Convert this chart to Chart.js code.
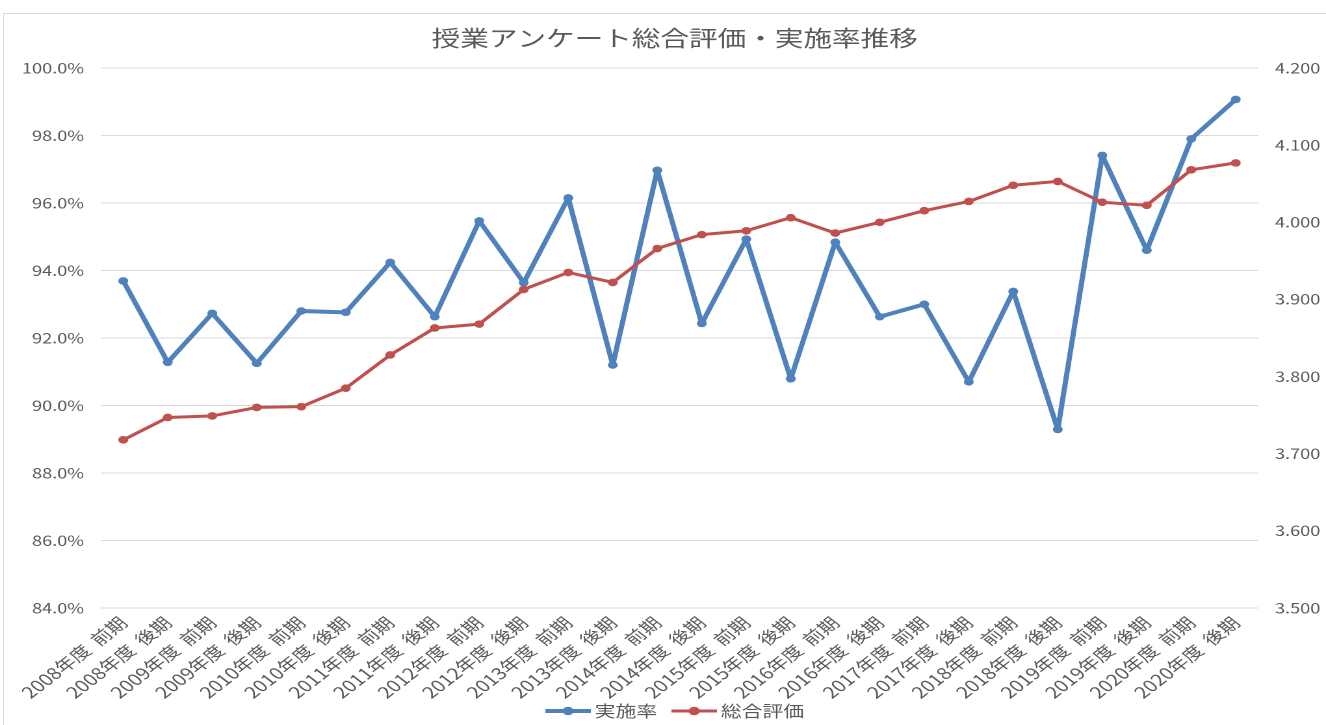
<!DOCTYPE html>
<html lang="ja">
<head>
<meta charset="utf-8">
<title>授業アンケート総合評価・実施率推移</title>
<script src="https://cdn.jsdelivr.net/npm/chart.js@4.4.1/dist/chart.umd.min.js"></script>
<style>
    html, body { margin: 0; padding: 0; background: #fff; overflow: hidden; }
    #frame { position: absolute; left: 3px; top: 13px; width: 1360px; height: 740px; border: 1px solid #d9d9d9; box-sizing: border-box; }
    /* the original picture is stretched sideways, so the chart is drawn narrow and widened */
    #wrap { position: absolute; left: 0; top: 0; transform: scaleX(1.3); transform-origin: 0 0; }
</style>
</head>
<body>
<div id="frame"></div>
<div id="wrap"><canvas id="surveyChart" width="1038" height="725"></canvas></div>
<script>
const periods = [
    '2008年度  前期', '2008年度  後期', '2009年度  前期', '2009年度  後期',
    '2010年度  前期', '2010年度  後期', '2011年度  前期', '2011年度  後期',
    '2012年度  前期', '2012年度  後期', '2013年度  前期', '2013年度  後期',
    '2014年度  前期', '2014年度  後期', '2015年度  前期', '2015年度  後期',
    '2016年度  前期', '2016年度  後期', '2017年度  前期', '2017年度  後期',
    '2018年度  前期', '2018年度  後期', '2019年度  前期', '2019年度  後期',
    '2020年度  前期', '2020年度  後期'
];

// 実施率 (%), left axis
const responseRate = [
    93.69, 91.28, 92.73, 91.25, 92.80, 92.76, 94.24, 92.63, 95.47, 93.64,
    96.15, 91.20, 96.97, 92.43, 94.93, 90.79, 94.84, 92.63, 93.00, 90.70,
    93.38, 89.29, 97.41, 94.60, 97.90, 99.07
];

// 総合評価, right axis
const overallScore = [
    3.718, 3.747, 3.749, 3.760, 3.761, 3.785, 3.828, 3.863, 3.868, 3.913,
    3.935, 3.922, 3.966, 3.984, 3.989, 4.006, 3.986, 4.000, 4.015, 4.027,
    4.048, 4.053, 4.026, 4.022, 4.068, 4.077
];

const leftTicks = [84, 86, 88, 90, 92, 94, 96, 98, 100];
const rightTicks = [3.5, 3.6, 3.7, 3.8, 3.9, 4.0, 4.1, 4.2];

const BLUE = '#4f81bd';
const RED = '#c0504d';
const TEXT = '#595959';
const GRID = '#d9d9d9';
const FONT = "'Noto Sans CJK JP', 'Noto Sans', sans-serif";

// Excel style legend: short line with a marker in the middle, then the label
const lineLegend = {
    id: 'lineLegend',
    afterDraw(chart) {
        const ctx = chart.ctx;
        const lineLen = 35, gap = 3, itemGap = 11, y = 711;
        ctx.save();
        ctx.font = '16px ' + FONT;
        ctx.textBaseline = 'middle';
        const items = chart.data.datasets.map((ds) => ({
            text: ds.label,
            color: ds.borderColor,
            lw: ds.borderWidth,
            r: ds.pointRadius,
            w: lineLen + gap + ctx.measureText(ds.label).width
        }));
        const total = items.reduce((s, it) => s + it.w, 0) + itemGap * (items.length - 1);
        let x = chart.width / 2 - total / 2;
        items.forEach((it) => {
            ctx.strokeStyle = it.color;
            ctx.lineWidth = it.lw;
            ctx.beginPath();
            ctx.moveTo(x, y);
            ctx.lineTo(x + lineLen, y);
            ctx.stroke();
            ctx.fillStyle = it.color;
            ctx.beginPath();
            ctx.arc(x + lineLen / 2, y, it.r + 0.5, 0, Math.PI * 2);
            ctx.fill();
            ctx.fillStyle = TEXT;
            ctx.fillText(it.text, x + lineLen + gap, y);
            x += it.w + itemGap;
        });
        ctx.restore();
    }
};

new Chart(document.getElementById('surveyChart'), {
    type: 'line',
    data: {
        labels: periods,
        datasets: [
            {
                label: '実施率',
                data: responseRate,
                yAxisID: 'y',
                borderColor: BLUE,
                backgroundColor: BLUE,
                borderWidth: 4,
                borderJoinStyle: 'round',
                pointRadius: 3.8,
                pointBorderWidth: 0,
                pointBackgroundColor: BLUE,
                tension: 0,
                order: 1
            },
            {
                label: '総合評価',
                data: overallScore,
                yAxisID: 'y1',
                borderColor: RED,
                backgroundColor: RED,
                borderWidth: 3,
                borderJoinStyle: 'round',
                pointRadius: 3.8,
                pointBorderWidth: 0,
                pointBackgroundColor: RED,
                tension: 0,
                order: 0
            }
        ]
    },
    options: {
        responsive: false,
        animation: false,
        devicePixelRatio: 2,
        layout: { padding: 0 },
        plugins: {
            title: {
                display: true,
                text: '授業アンケート総合評価・実施率推移',
                color: TEXT,
                font: { family: FONT, size: 22, weight: 'normal', lineHeight: 1.2 },
                padding: { top: 25, bottom: 16.6 }
            },
            legend: { display: false },
            tooltip: { enabled: false }
        },
        scales: {
            x: {
                offset: true,
                grid: { display: false, drawTicks: false },
                border: { display: false },
                ticks: {
                    color: TEXT,
                    font: { family: FONT, size: 16 },
                    maxRotation: 45,
                    minRotation: 45,
                    autoSkip: false,
                    padding: 5
                },
                afterFit: (scale) => { scale.height = 117; }
            },
            y: {
                position: 'left',
                min: 84,
                max: 100,
                afterBuildTicks: (scale) => { scale.ticks = leftTicks.map((v) => ({ value: v })); },
                grid: { color: GRID, lineWidth: 1, drawTicks: false },
                border: { display: false },
                ticks: {
                    color: TEXT,
                    font: { family: FONT, size: 14 },
                    padding: 13,
                    callback: (v) => v.toFixed(1) + '%'
                },
                afterFit: (scale) => { scale.width = 77.7; }
            },
            y1: {
                position: 'right',
                min: 3.5,
                max: 4.2,
                afterBuildTicks: (scale) => { scale.ticks = rightTicks.map((v) => ({ value: v })); },
                grid: { display: false, drawTicks: false },
                border: { display: false },
                ticks: {
                    color: TEXT,
                    font: { family: FONT, size: 14 },
                    padding: 13,
                    callback: (v) => v.toFixed(3)
                },
                afterFit: (scale) => { scale.width = 70.3; }
            }
        }
    },
    plugins: [lineLegend]
});
</script>
</body>
</html>
